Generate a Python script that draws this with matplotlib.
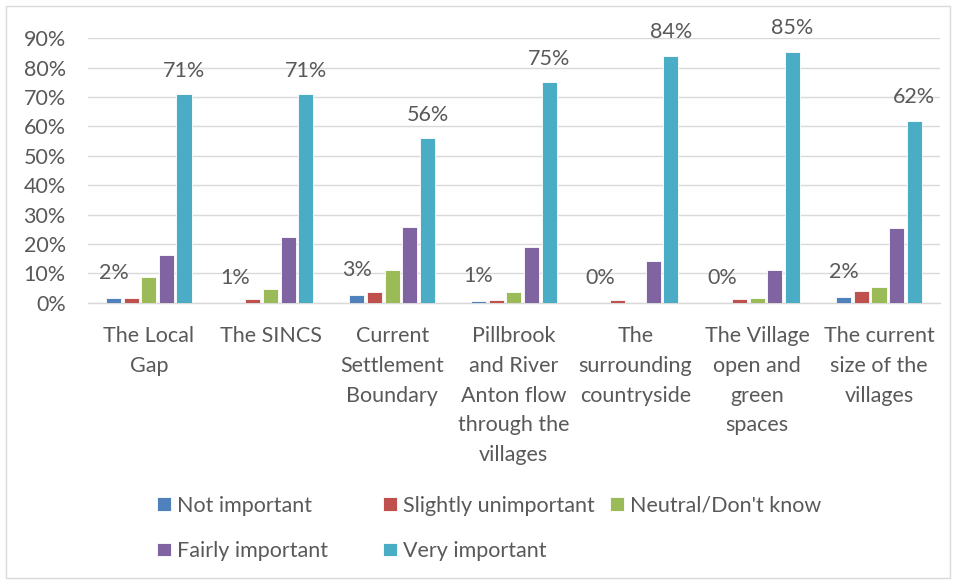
import matplotlib.pyplot as plt
import numpy as np
from matplotlib.patches import Rectangle

categories = ["The Local\nGap", "The SINCS", "Current\nSettlement\nBoundary",
              "Pillbrook\nand River\nAnton flow\nthrough the\nvillages",
              "The\nsurrounding\ncountryside", "The Village\nopen and\ngreen\nspaces",
              "The current\nsize of the\nvillages"]
not_important = [1.5, 0, 2.5, 0.6, 0, 0, 2]
slightly_unimportant = [1.6, 1.2, 3.8, 1.0, 0.8, 1.2, 4]
neutral = [8.8, 4.6, 11.2, 3.5, 0, 1.6, 5.4]
fairly_important = [16.4, 22.4, 25.9, 19.0, 14.3, 11.2, 25.5]
very_important = [71, 71, 56, 75, 84, 85.5, 62]
ni_labels = ["2%", "1%", "3%", "1%", "0%", "0%", "2%"]
vi_labels = ["71%", "71%", "56%", "75%", "84%", "85%", "62%"]

series = [("Not important", not_important, "#4F81BD"),
          ("Slightly unimportant", slightly_unimportant, "#C0504D"),
          ("Neutral/Don't know", neutral, "#9BBB59"),
          ("Fairly important", fairly_important, "#8064A2"),
          ("Very important", very_important, "#4BACC6")]

plt.rcParams['font.family'] = ['Lato', 'DejaVu Sans']
txt = "#595959"
fs = 15.5

fig = plt.figure(figsize=(9.56, 5.8), dpi=100)
ax = fig.add_axes([0.092, 0.478, 0.891, 0.456])

x = np.arange(len(categories))
step = 0.145
bw = 0.125
bars = []
for i, (name, vals, col) in enumerate(series):
    b = ax.bar(x + (i - 2) * step, vals, bw, color=col, label=name,
               edgecolor="white", linewidth=0.6, zorder=3)
    bars.append(b)

for xi, v, lab in zip(x, not_important, ni_labels):
    ax.annotate(lab, (xi - 2 * step, v), xytext=(0, 18), textcoords="offset points",
                ha="center", va="center", fontsize=fs, color=txt)
for xi, v, lab in zip(x, very_important, vi_labels):
    ax.annotate(lab, (xi + 2 * step, v), xytext=(0, 17), textcoords="offset points",
                ha="center", va="center", fontsize=fs, color=txt)

ax.set_xlim(-0.5, len(categories) - 0.5)
ax.set_ylim(0, 90)
ax.set_yticks(range(0, 91, 10))
ax.set_yticklabels([f"{t}%" for t in range(0, 91, 10)])
ax.set_xticks(x)
ax.set_xticklabels(categories, linespacing=1.6, va="top")
ax.tick_params(axis="both", length=0, labelsize=fs, colors=txt)
ax.tick_params(axis="y", pad=16)
ax.tick_params(axis="x", pad=17)
ax.grid(axis="y", color="#D9D9D9", linewidth=1, zorder=0)
for s in ["top", "right", "left"]:
    ax.spines[s].set_visible(False)
ax.spines["bottom"].set_color("#D9D9D9")
ax.spines["bottom"].set_linewidth(1)

# legend entries laid out like the Excel legend (2 rows, uneven columns)
spots = [(157, 505.5), (383, 505.5), (610, 505.5), (157, 551), (383, 551)]
for b, (name, _, _), (px, py) in zip(bars, series, spots):
    lg = fig.legend([b], [name], loc="center left",
                    bbox_to_anchor=(px / 956, 1 - py / 580), frameon=False,
                    fontsize=fs, handlelength=0.65, handleheight=0.6, handletextpad=0.3,
                    borderpad=0, borderaxespad=0)
    for t in lg.get_texts():
        t.set_color(txt)

fig.patches.append(Rectangle((0.006, 0.004), 0.988, 0.985, transform=fig.transFigure,
                             fill=False, edgecolor="#D9D9D9", linewidth=1))

plt.savefig("out.png", dpi=100)
